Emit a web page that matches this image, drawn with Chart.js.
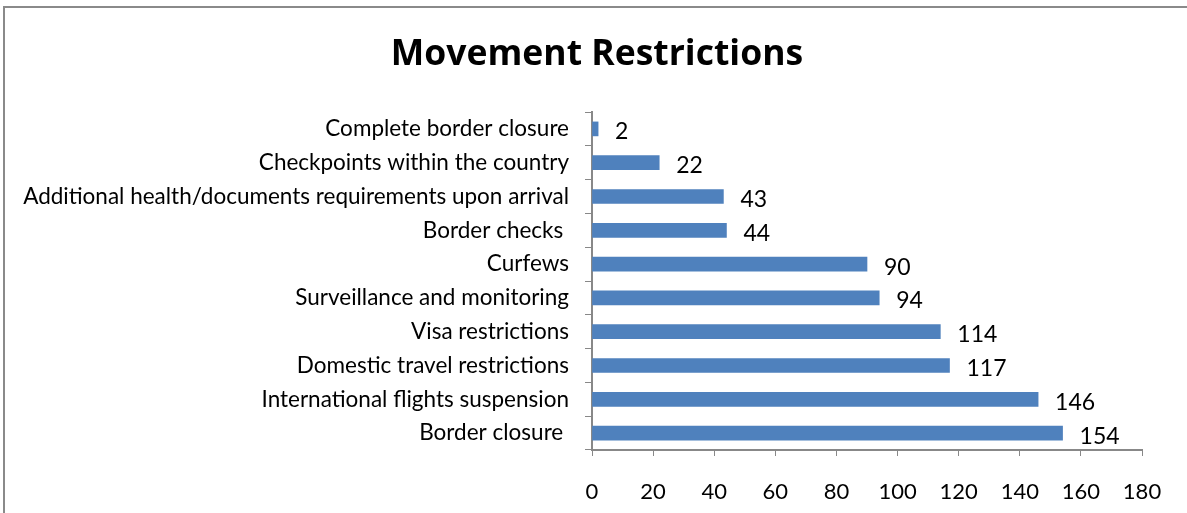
<!DOCTYPE html>
<html>
<head>
<meta charset="utf-8">
<script src="https://cdn.jsdelivr.net/npm/chart.js"></script>
<style>
  html, body { margin: 0; padding: 0; background: #fff; overflow: hidden; }
  #wrap { position: relative; width: 1187px; height: 513px; }
  #frame {
    position: absolute; left: 3px; top: 6px; width: 1300px; height: 600px;
    border-left: 2px solid #8a8a8a; border-top: 2px solid #8a8a8a;
  }
  canvas { position: absolute; left: 0; top: 0; }
</style>
</head>
<body>
<div id="wrap">
  <div id="frame"></div>
  <canvas id="chart" width="1187" height="513"></canvas>
</div>
<script>
const chartTitle = "Movement Restrictions";
const categories = [
  "Complete border closure",
  "Checkpoints within the country",
  "Additional health/documents requirements upon arrival",
  "Border checks ",
  "Curfews",
  "Surveillance and monitoring",
  "Visa restrictions",
  "Domestic travel restrictions",
  "International flights suspension",
  "Border closure ",
];
const counts = [2, 22, 43, 44, 90, 94, 114, 117, 146, 154];
const xTicks = [0, 20, 40, 60, 80, 100, 120, 140, 160, 180];

const FONT = "Lato, 'Open Sans', sans-serif";

// title is centred on the whole frame, not on the plot box
const titlePlugin = {
  id: "titlePlugin",
  afterDraw(chart) {
    const ctx = chart.ctx;
    ctx.save();
    ctx.font = "bold 35.5px 'Open Sans', sans-serif";
    ctx.fillStyle = "#000";
    ctx.textAlign = "center";
    ctx.textBaseline = "middle";
    ctx.fillText(chartTitle, 597, 55);
    ctx.restore();
  },
};

// value labels to the right of each bar
const valueLabels = {
  id: "valueLabels",
  afterDatasetsDraw(chart) {
    const ctx = chart.ctx;
    const meta = chart.getDatasetMeta(0);
    ctx.save();
    ctx.font = "23px " + FONT;
    ctx.fillStyle = "#000";
    ctx.textAlign = "left";
    ctx.textBaseline = "middle";
    meta.data.forEach((bar, i) => {
      ctx.fillText(String(counts[i]), bar.x + 17, bar.y + 3);
    });
    ctx.restore();
  },
};

new Chart(document.getElementById("chart"), {
  type: "bar",
  data: {
    labels: categories,
    datasets: [
      {
        data: counts,
        backgroundColor: "#4F81BD",
        borderWidth: 0,
        barThickness: 14,
      },
    ],
  },
  options: {
    indexAxis: "y",
    responsive: false,
    animation: false,
    layout: { padding: { top: 112, right: 45, bottom: 0, left: 0 } },
    plugins: {
      legend: { display: false },
      tooltip: { enabled: false },
      title: { display: false },
    },
    scales: {
      x: {
        min: 0,
        max: 180,
        afterBuildTicks(scale) {
          scale.ticks = xTicks.map((v) => ({ value: v }));
        },
        afterFit(scale) { scale.height = 63; },
        grid: {
          drawOnChartArea: false,
          drawTicks: true,
          tickLength: 6,
          color: "#888",
        },
        border: { color: "#888", width: 2 },
        ticks: {
          color: "#000",
          padding: 23,
          font: { family: FONT, size: 22 },
        },
      },
      y: {
        afterFit(scale) { scale.width = 592; },
        grid: {
          drawOnChartArea: false,
          drawTicks: true,
          tickLength: 7,
          color: "#888",
        },
        border: { color: "#888", width: 2 },
        ticks: {
          color: "#000",
          padding: 16,
          font: { family: FONT, size: 22.5 },
        },
      },
    },
  },
  plugins: [valueLabels, titlePlugin],
});
</script>
</body>
</html>
